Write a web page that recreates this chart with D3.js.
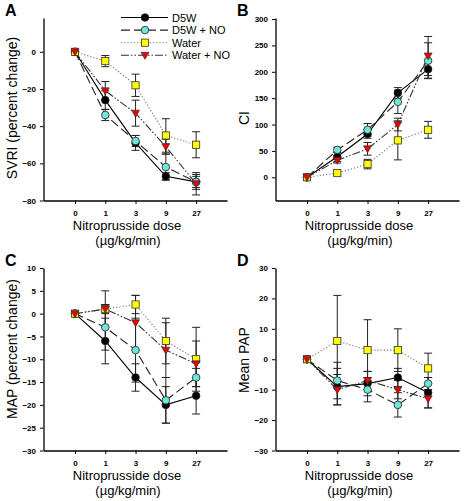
<!DOCTYPE html>
<html><head><meta charset="utf-8">
<script src="https://cdn.jsdelivr.net/npm/d3@7"></script>
<style>body{margin:0;background:#fff}svg{display:block}</style>
</head><body><svg id="c" width="464" height="501"></svg>
<script>
// ---- data ----
const doses = ["0", "1", "3", "9", "27"];
const seriesNames = ["D5W", "D5W + NO", "Water", "Water + NO"];

// Panel A: SVRI (percent change)
const svriD5W      = [0, -26, -49, -67, -70];
const svriD5WErr   = [0, 5, 4, 2, 3];
const svriD5WNO    = [0, -34, -48, -62, -70];
const svriD5WNOErr = [0, 3, 3, 7, 4];
const svriWater    = [0, -5, -18, -45, -50];
const svriWaterErr = [0, 3, 6, 9, 7];
const svriWaterNO  = [0, -21, -33, -51, -71];
const svriWaterNOErr = [0, 5, 7, 4, 6];

// Panel B: CI
const ciD5W      = [0, 39, 82, 160, 205];
const ciD5WErr   = [0, 9, 8, 10, 17];
const ciD5WNO    = [0, 52, 90, 143, 221];
const ciD5WNOErr = [0, 5, 12, 22, 34];
const ciWater    = [0, 8, 25, 70, 90];
const ciWaterErr = [0, 3, 9, 37, 16];
const ciWaterNO  = [0, 32, 54, 100, 230];
const ciWaterNOErr = [0, 5, 12, 12, 37];

// Panel C: MAP (percent change)
const mapD5W      = [0, -6, -14, -20, -18];
const mapD5WErr   = [0, 5, 3, 4, 4];
const mapD5WNO    = [0, -3, -8, -19, -14];
const mapD5WNOErr = [0, 5, 7, 5, 2];
const mapWater    = [0, 1, 2, -6, -10];
const mapWaterErr = [0, 4, 2, 5, 7];
const mapWaterNO  = [0, 1, -2, -8, -11];
const mapWaterNOErr = [0, 1, 6, 6, 5];

// Panel D: Mean PAP
const papD5W      = [0, -9, -8, -6, -11];
const papD5WErr   = [0, 6, 4, 3, 5];
const papD5WNO    = [0, -7, -10, -15, -8];
const papD5WNOErr = [0, 6, 4, 4, 2];
const papWater    = [0, 6, 3, 3, -3];
const papWaterErr = [0, 15, 10, 7, 5];
const papWaterNO  = [0, -10, -7, -10, -13];
const papWaterNOErr = [0, 5, 3, 3, 3];

// ticks
const svriTicks = [-80, -60, -40, -20, 0];
const ciTicks = [0, 50, 100, 150, 200, 250, 300];
const mapTicks = [-30, -25, -20, -15, -10, -5, 0, 5, 10];
const papTicks = [-30, -20, -10, 0, 10, 20, 30];

// ---- styles ----
const styles = [
  {line: "#000", dash: null, shape: "circle", fill: "#000"},
  {line: "#222", dash: "9,4", shape: "circle", fill: "#6fe6d8"},
  {line: "#777", dash: "1.2,2", shape: "square", fill: "#ffff00"},
  {line: "#333", dash: "8,2,1.5,2,1.5,2", shape: "tri", fill: "#ee0000"}
];

const panels = [
  {letter: "A", ox: 0, oy: 0, ylabel: "SVRI (percent change)", labelY: 108, domain: [-80, 18.2], ticks: svriTicks,
   series: [[svriD5W, svriD5WErr], [svriD5WNO, svriD5WNOErr], [svriWater, svriWaterErr], [svriWaterNO, svriWaterNOErr]], legend: true},
  {letter: "B", ox: 232, oy: 0, ylabel: "CI", labelY: 118, domain: [-44, 302], ticks: ciTicks,
   series: [[ciD5W, ciD5WErr], [ciD5WNO, ciD5WNOErr], [ciWater, ciWaterErr], [ciWaterNO, ciWaterNOErr]]},
  {letter: "C", ox: 0, oy: 250, ylabel: "MAP (percent change)", labelY: 99, domain: [-30, 10], ticks: mapTicks,
   series: [[mapD5W, mapD5WErr], [mapD5WNO, mapD5WNOErr], [mapWater, mapWaterErr], [mapWaterNO, mapWaterNOErr]]},
  {letter: "D", ox: 232, oy: 250, ylabel: "Mean PAP", labelY: 110, domain: [-30, 30], ticks: papTicks,
   series: [[papD5W, papD5WErr], [papD5WNO, papD5WNOErr], [papWater, papWaterErr], [papWaterNO, papWaterNOErr]]}
];

const svg = d3.select("#c");
const font = "Liberation Sans, Arial, sans-serif";

function marker(g, shape, x, y, fill) {
  if (shape === "circle") {
    g.append("circle").attr("cx", x).attr("cy", y).attr("r", 3.8).attr("fill", fill).attr("stroke", "#222").attr("stroke-width", 0.8);
  } else if (shape === "square") {
    g.append("rect").attr("x", x - 3.6).attr("y", y - 3.6).attr("width", 7.2).attr("height", 7.2).attr("fill", fill).attr("stroke", "#333").attr("stroke-width", 0.8);
  } else {
    g.append("path").attr("d", `M${x-4},${y-3}L${x+4},${y-3}L${x},${y+4}Z`).attr("fill", fill).attr("stroke", "#333").attr("stroke-width", 0.7);
  }
}

panels.forEach(p => {
  const g = svg.append("g").attr("transform", `translate(${p.ox},${p.oy})`);
  const x = d3.scaleLinear().domain([-1.04, 5.02]).range([43.5, 227]);
  const y = d3.scaleLinear().domain(p.domain).range([200.5, 18]);

  // axes
  const xa = g.append("g").attr("transform", "translate(0,200.5)")
    .call(d3.axisBottom(x).tickValues([0, 1, 2, 3, 4]).tickFormat(i => doses[i]).tickSize(3.5).tickPadding(6).tickSizeOuter(0));
  const ya = g.append("g").attr("transform", "translate(43.5,0)")
    .call(d3.axisLeft(y).tickValues(p.ticks).tickSize(3.5).tickPadding(4).tickSizeOuter(0));
  [xa, ya].forEach(a => {
    a.select(".domain").attr("stroke", "#000").attr("stroke-width", 1.3);
    a.selectAll(".tick line").attr("stroke", "#000").attr("stroke-width", 1);
    a.selectAll(".tick text").attr("font-family", font).attr("font-weight", "bold").attr("font-size", 8).attr("fill", "#000");
  });

  // series lines
  p.series.forEach((s, k) => {
    const st = styles[k];
    const line = d3.line().x((d, i) => x(i)).y(d => y(d));
    g.append("path").datum(s[0]).attr("d", line).attr("fill", "none")
      .attr("stroke", st.line).attr("stroke-width", 1.1).attr("stroke-dasharray", st.dash);
  });
  // error bars
  p.series.forEach((s, k) => {
    s[0].forEach((v, i) => {
      const e = s[1][i];
      if (!e) return;
      const cx = x(i), y1 = y(v - e), y2 = y(v + e);
      g.append("line").attr("x1", cx).attr("x2", cx).attr("y1", y1).attr("y2", y2).attr("stroke", "#222").attr("stroke-width", 1);
      [y1, y2].forEach(yy => g.append("line").attr("x1", cx - 4).attr("x2", cx + 4).attr("y1", yy).attr("y2", yy).attr("stroke", "#222").attr("stroke-width", 1));
    });
  });
  // markers
  p.series.forEach((s, k) => {
    const st = styles[k];
    s[0].forEach((v, i) => marker(g, st.shape, x(i), y(v), st.fill));
  });

  // labels
  g.append("text").attr("x", 5).attr("y", 16).text(p.letter)
    .attr("font-family", font).attr("font-weight", "bold").attr("font-size", 16);
  g.append("text").attr("transform", `translate(17,${p.labelY}) rotate(-90)`).attr("text-anchor", "middle")
    .attr("font-family", font).attr("font-size", 14).text(p.ylabel);
  g.append("text").attr("x", 127).attr("y", 230).attr("text-anchor", "middle")
    .attr("font-family", font).attr("font-size", 13).text("Nitroprusside dose");
  g.append("text").attr("x", 128).attr("y", 245).attr("text-anchor", "middle")
    .attr("font-family", font).attr("font-size", 13).text("(\u00b5g/kg/min)");

  if (p.legend) {
    seriesNames.forEach((name, k) => {
      const st = styles[k];
      const ly = 17.5 + k * 12.6;
      g.append("line").attr("x1", 121).attr("x2", 168).attr("y1", ly).attr("y2", ly)
        .attr("stroke", st.line).attr("stroke-width", 1.1).attr("stroke-dasharray", st.dash);
      marker(g, st.shape, 145, ly, st.fill);
      g.append("text").attr("x", 172).attr("y", ly + 4).text(name)
        .attr("font-family", font).attr("font-size", 11);
    });
  }
});
</script>
</body></html>
